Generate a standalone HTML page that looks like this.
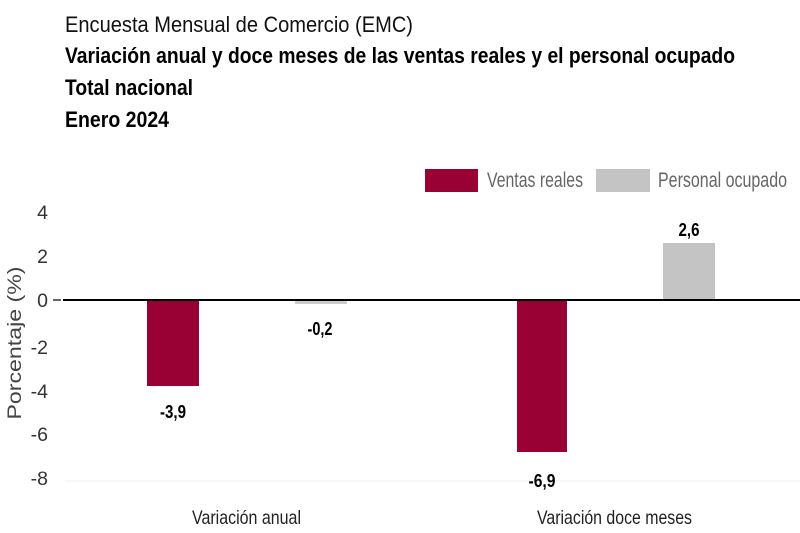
<!DOCTYPE html>
<html><head><meta charset="utf-8"><style>
html,body{margin:0;padding:0;background:#fff;}
svg{display:block;}
</style></head><body>
<svg width="800" height="533" viewBox="0 0 800 533" xmlns="http://www.w3.org/2000/svg" font-family="'Liberation Sans', Arial, sans-serif">
<rect width="800" height="533" fill="#fff"/>
<!-- Titles -->
<text x="65" y="32" font-size="22.5" fill="#111" textLength="348" lengthAdjust="spacingAndGlyphs">Encuesta Mensual de Comercio (EMC)</text>
<text x="65" y="63" font-size="22.5" font-weight="bold" fill="#000" textLength="670" lengthAdjust="spacingAndGlyphs">Variación anual y doce meses de las ventas reales y el personal ocupado</text>
<text x="65" y="95" font-size="22.5" font-weight="bold" fill="#000" textLength="128" lengthAdjust="spacingAndGlyphs">Total nacional</text>
<text x="65" y="127" font-size="22.5" font-weight="bold" fill="#000" textLength="104" lengthAdjust="spacingAndGlyphs">Enero 2024</text>

<!-- Legend -->
<rect x="425" y="169" width="53" height="23" fill="#990033"/>
<text x="487" y="187" font-size="21" fill="#666" textLength="96" lengthAdjust="spacingAndGlyphs">Ventas reales</text>
<rect x="596" y="169" width="54" height="23" fill="#c4c4c4"/>
<text x="658" y="187" font-size="21" fill="#666" textLength="129" lengthAdjust="spacingAndGlyphs">Personal ocupado</text>

<!-- Y axis label -->
<text transform="translate(21,343) rotate(-90)" text-anchor="middle" font-size="19" fill="#444" textLength="153" lengthAdjust="spacingAndGlyphs">Porcentaje (%)</text>

<!-- Tick labels -->
<g font-size="19.5" fill="#333" text-anchor="end">
<text x="48" y="219">4</text>
<text x="48" y="263">2</text>
<text x="48" y="307">0</text>
<text x="48" y="354">-2</text>
<text x="48" y="398">-4</text>
<text x="48" y="441">-6</text>
<text x="48" y="485">-8</text>
</g>

<!-- faint bottom line -->
<line x1="65" y1="481" x2="800" y2="481" stroke="#f0f0f0" stroke-width="1"/>

<!-- Bars -->
<rect x="147" y="300" width="52" height="86" fill="#990033"/>
<rect x="295" y="301" width="52" height="3" fill="#cccccc"/>
<rect x="517" y="300" width="50" height="152" fill="#990033"/>
<rect x="663" y="243" width="52" height="57" fill="#c4c4c4"/>

<!-- Zero line -->
<line x1="53" y1="300" x2="61" y2="300" stroke="#333" stroke-width="1.5"/>
<line x1="63" y1="300" x2="800" y2="300" stroke="#000" stroke-width="2"/>

<!-- Value labels -->
<g font-size="18" font-weight="bold" fill="#000" text-anchor="middle">
<text x="173" y="418" textLength="26" lengthAdjust="spacingAndGlyphs">-3,9</text>
<text x="320" y="335" textLength="25" lengthAdjust="spacingAndGlyphs">-0,2</text>
<text x="542" y="487" textLength="27" lengthAdjust="spacingAndGlyphs">-6,9</text>
<text x="689" y="236" textLength="21" lengthAdjust="spacingAndGlyphs">2,6</text>
</g>

<!-- Category labels -->
<text x="192" y="524" font-size="19.5" fill="#222" textLength="109" lengthAdjust="spacingAndGlyphs">Variación anual</text>
<text x="537" y="524" font-size="19.5" fill="#222" textLength="155" lengthAdjust="spacingAndGlyphs">Variación doce meses</text>
</svg>
</body></html>
